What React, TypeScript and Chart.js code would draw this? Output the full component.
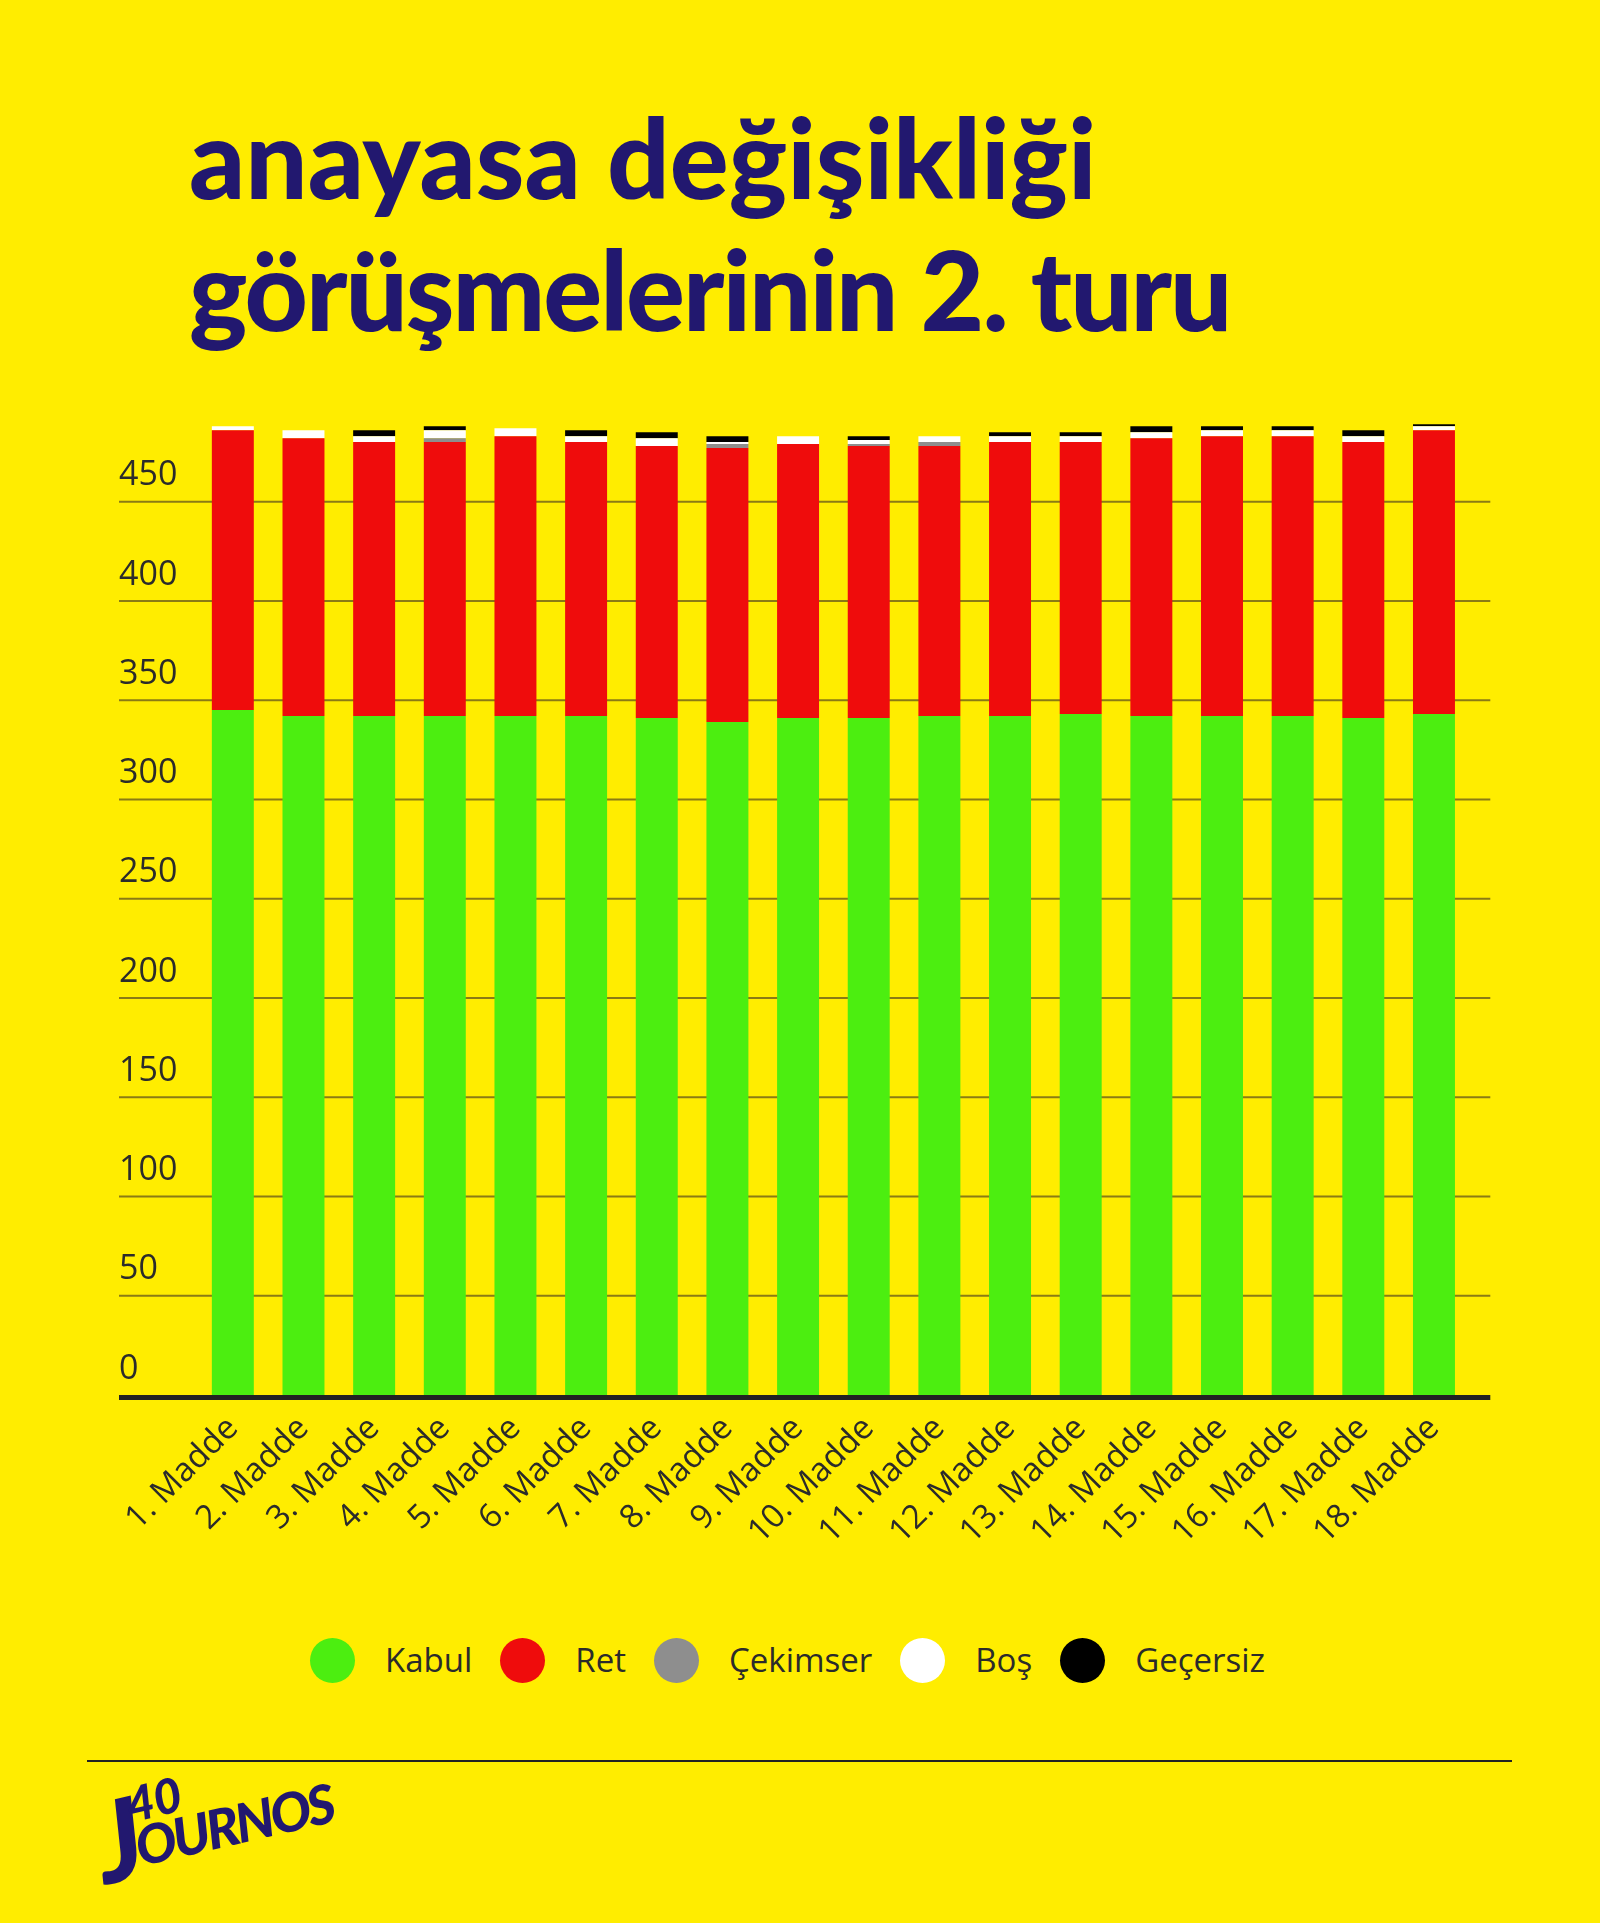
import { useEffect, useRef } from "react";
import { Chart, registerables } from "chart.js";

Chart.register(...registerables);

// data (votes per article, 2nd round)
const categories = [
  "1. Madde", "2. Madde", "3. Madde", "4. Madde", "5. Madde", "6. Madde",
  "7. Madde", "8. Madde", "9. Madde", "10. Madde", "11. Madde", "12. Madde",
  "13. Madde", "14. Madde", "15. Madde", "16. Madde", "17. Madde", "18. Madde",
];
const kabul = [345, 342, 342, 342, 342, 342, 341, 339, 341, 341, 342, 342, 343, 342, 342, 342, 341, 343];
const ret = [141, 140, 138, 138, 141, 138, 137, 138, 138, 137, 136, 138, 137, 140, 141, 141, 139, 143];
const cekimser = [0, 0, 0, 2, 0, 0, 0, 2, 0, 1, 2, 0, 0, 0, 0, 0, 0, 0];
const bos = [2, 4, 3, 4, 4, 3, 4, 1, 4, 2, 3, 3, 3, 3, 3, 3, 3, 2];
const gecersiz = [0, 0, 3, 2, 0, 3, 3, 3, 0, 2, 0, 2, 2, 3, 2, 2, 3, 1];
const yTicks = [0, 50, 100, 150, 200, 250, 300, 350, 400, 450];

const seriesNames = ["Kabul", "Ret", "Çekimser", "Boş", "Geçersiz"];
const seriesColors = ["#4CEE10", "#EF0C0C", "#8E8E8E", "#FFFFFF", "#000000"];

const YELLOW = "#FFED00";
const NAVY = "#22186F";
const TEXT = "#2b2b2b";
const GRID = "#8a7b14";
const FONT = "'Open Sans', 'Noto Sans', sans-serif";

const CANVAS_TOP = 379;
const CANVAS_H = 1220;

// gridlines and the thick zero line run wider than the bar area
const fullGrid = {
  id: "fullGrid",
  beforeDatasetsDraw(chart: any) {
    const { ctx, chartArea } = chart;
    const y = chart.scales.y;
    ctx.save();
    ctx.strokeStyle = GRID;
    ctx.lineWidth = 2;
    yTicks.forEach((v) => {
      if (v === 0) return;
      const py = y.getPixelForValue(v);
      ctx.beginPath();
      ctx.moveTo(y.left, py);
      ctx.lineTo(chartArea.right + 21, py);
      ctx.stroke();
    });
    ctx.restore();
  },
  afterDatasetsDraw(chart: any) {
    const { ctx, chartArea } = chart;
    const y = chart.scales.y;
    const py = y.getPixelForValue(0) + 2.5;
    ctx.save();
    ctx.strokeStyle = "#222222";
    ctx.lineWidth = 5;
    ctx.beginPath();
    ctx.moveTo(y.left, py);
    ctx.lineTo(chartArea.right + 21, py);
    ctx.stroke();
    ctx.restore();
  },
};

const VotesChart = () => {
  const chartRef = useRef<HTMLCanvasElement>(null);

  useEffect(() => {
    if (!chartRef.current) return;
    const ctx = chartRef.current.getContext("2d");
    if (!ctx) return;
    const values = [kabul, ret, cekimser, bos, gecersiz];
    const chart = new Chart(ctx, {
      type: "bar",
      data: {
        labels: categories,
        datasets: seriesNames.map((name, i) => ({
          label: name,
          data: values[i],
          backgroundColor: seriesColors[i],
          borderWidth: 0,
          categoryPercentage: 1,
          barPercentage: 0.594,
        })),
      },
      options: {
        animation: false,
        responsive: true,
        maintainAspectRatio: false,
        layout: { padding: { left: 119, right: 130.7, top: 20.3, bottom: 0 } },
        plugins: {
          legend: { display: false },
          tooltip: { enabled: false },
        },
        scales: {
          x: {
            stacked: true,
            grid: { display: false },
            border: { display: false },
            afterFit: (s: any) => {
              s.height = CANVAS_H - 1016;
            },
            ticks: {
              color: TEXT,
              font: { family: FONT, size: 33 },
              minRotation: 45,
              maxRotation: 45,
              padding: 6,
              autoSkip: false,
            },
          },
          y: {
            stacked: true,
            min: 0,
            max: 500,
            grid: { display: false },
            border: { display: false },
            afterFit: (s: any) => {
              s.width = 78.5;
            },
            ticks: {
              stepSize: 50,
              color: TEXT,
              crossAlign: "far",
              labelOffset: -26,
              font: { family: FONT, size: 34 },
              callback: (v: any) => (yTicks.includes(Number(v)) ? String(v) : ""),
            },
          },
        },
      },
      plugins: [fullGrid],
    });
    return () => chart.destroy();
  }, []);

  return (
    <div style={{ position: "absolute", left: 0, top: CANVAS_TOP, width: 1600, height: CANVAS_H }}>
      <canvas ref={chartRef}></canvas>
    </div>
  );
};

const Legend = () => (
  <div
    style={{
      position: "absolute",
      left: 310,
      top: 1638,
      height: 44,
      display: "flex",
      alignItems: "center",
      fontFamily: FONT,
      fontSize: 33,
      color: TEXT,
    }}
  >
    {seriesNames.map((name, i) => (
      <div key={name} style={{ display: "flex", alignItems: "center", marginRight: 28 }}>
        <span
          style={{
            width: 45,
            height: 45,
            borderRadius: "50%",
            background: seriesColors[i],
            marginRight: 30,
            display: "inline-block",
          }}
        />
        <span style={{ lineHeight: "44px" }}>{name}</span>
      </div>
    ))}
  </div>
);

const App = () => (
  <div
    style={{
      position: "absolute",
      left: 0,
      top: 0,
      width: 1600,
      height: 1923,
      background: YELLOW,
      overflow: "hidden",
    }}
  >
    <div
      style={{
        position: "absolute",
        left: 189,
        top: 90,
        fontFamily: "Lato, sans-serif",
        fontWeight: 900,
        fontSize: 110,
        lineHeight: "132px",
        color: NAVY,
        whiteSpace: "nowrap",
      }}
    >
      <div>anayasa değişikliği</div>
      <div style={{ letterSpacing: -2 }}>görüşmelerinin 2. turu</div>
    </div>
    <VotesChart />
    <Legend />
    <div
      style={{
        position: "absolute",
        left: 87,
        top: 1760,
        width: 1425,
        height: 2,
        background: "#222222",
      }}
    />
    <div
      style={{
        position: "absolute",
        left: 104,
        top: 1792,
        color: NAVY,
        fontFamily: "Lato, sans-serif",
        fontWeight: 900,
        fontStyle: "italic",
        transform: "rotate(-13deg)",
        transformOrigin: "left bottom",
        display: "flex",
        alignItems: "flex-end",
        lineHeight: 1,
      }}
    >
      <span style={{ fontSize: 112, lineHeight: "92px", marginBottom: -10 }}>J</span>
      <span style={{ display: "flex", flexDirection: "column", marginLeft: -8 }}>
        <span style={{ fontSize: 48, lineHeight: "40px" }}>40</span>
        <span style={{ fontSize: 54, lineHeight: "46px", letterSpacing: -3 }}>OURNOS</span>
      </span>
    </div>
  </div>
);

export default App;
